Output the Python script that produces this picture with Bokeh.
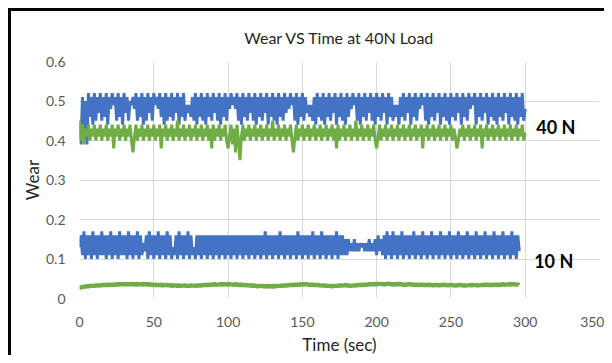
from bokeh.plotting import figure
from bokeh.layouts import column, row
from bokeh.models import Label, FixedTicker, Range1d, Spacer
from bokeh.embed import file_html
from bokeh.resources import INLINE

# time samples (sec)
t_40 = list(range(0, 301))
t_10 = list(range(0, 297))

blue_40 = [
    .45, .39, .51, .40, .50, .39, .52, .46, .51, .44, .52, .45, .51, .47, .52, .45, .51, .46, .52, .44,
    .51, .48, .52, .49, .51, .45, .52, .46, .51, .44, .52, .47, .51, .45, .50, .49, .51, .48, .52, .45,
    .51, .46, .52, .44, .51, .45, .52, .47, .51, .45, .52, .49, .51, .48, .52, .46, .51, .44, .52, .45,
    .51, .46, .52, .45, .51, .47, .52, .44, .51, .46, .52, .45, .49, .47, .49, .46, .51, .45, .52, .44,
    .51, .46, .52, .45, .51, .44, .52, .46, .51, .45, .52, .47, .51, .45, .52, .44, .51, .46, .52, .45,
    .51, .48, .52, .49, .51, .48, .52, .45, .51, .44, .52, .46, .51, .45, .52, .47, .51, .45, .52, .44,
    .51, .46, .52, .45, .51, .47, .52, .44, .51, .46, .52, .45, .51, .44, .52, .46, .51, .45, .52, .47,
    .51, .48, .52, .49, .51, .45, .52, .44, .51, .46, .52, .45, .51, .47, .49, .46, .49, .45, .51, .44,
    .52, .46, .51, .45, .52, .44, .51, .46, .52, .45, .51, .47, .52, .44, .51, .46, .52, .45, .51, .44,
    .52, .46, .51, .48, .52, .49, .51, .45, .52, .44, .51, .46, .52, .45, .51, .47, .52, .45, .51, .44,
    .52, .46, .51, .45, .52, .47, .51, .44, .52, .46, .51, .45, .49, .46, .49, .44, .51, .46, .52, .45,
    .51, .47, .52, .44, .51, .46, .52, .45, .51, .48, .52, .49, .51, .45, .52, .44, .51, .46, .52, .45,
    .51, .47, .52, .44, .51, .46, .52, .45, .51, .44, .52, .46, .51, .45, .52, .47, .51, .44, .52, .46,
    .51, .45, .52, .48, .51, .49, .52, .44, .51, .46, .52, .45, .51, .47, .52, .44, .51, .46, .52, .45,
    .51, .44, .52, .46, .51, .45, .52, .47, .51, .44, .52, .46, .51, .45, .52, .44, .51, .46, .52, .45,
    .48,
]

green_40 = [
    .45, .40, .44, .39, .43, .41, .44, .40, .43, .41, .44, .40, .43, .41, .44, .40, .43, .41, .44, .40,
    .43, .41, .44, .38, .43, .41, .44, .40, .43, .41, .44, .40, .43, .41, .44, .40, .37, .41, .44, .40,
    .43, .41, .44, .40, .43, .41, .44, .40, .43, .41, .44, .40, .43, .41, .44, .38, .43, .41, .44, .40,
    .43, .41, .44, .40, .43, .41, .45, .40, .43, .41, .44, .40, .43, .41, .44, .40, .43, .41, .44, .40,
    .43, .41, .44, .40, .43, .41, .44, .40, .43, .38, .44, .40, .43, .41, .44, .40, .43, .41, .44, .40,
    .38, .41, .44, .39, .43, .37, .44, .40, .35, .41, .44, .40, .43, .41, .44, .40, .43, .41, .44, .40,
    .43, .41, .44, .40, .43, .41, .44, .40, .43, .41, .45, .40, .43, .41, .44, .40, .43, .41, .44, .40,
    .43, .41, .44, .40, .37, .41, .44, .40, .43, .41, .44, .40, .43, .41, .44, .40, .43, .41, .44, .40,
    .43, .41, .44, .40, .43, .41, .44, .40, .43, .41, .44, .40, .43, .38, .44, .40, .43, .41, .44, .40,
    .43, .41, .44, .40, .43, .41, .45, .40, .43, .41, .44, .40, .43, .41, .44, .40, .43, .41, .44, .40,
    .38, .41, .44, .40, .43, .41, .44, .40, .43, .41, .44, .40, .43, .41, .44, .40, .43, .41, .44, .40,
    .43, .41, .44, .40, .43, .41, .44, .40, .43, .41, .44, .38, .43, .41, .44, .40, .43, .41, .44, .40,
    .43, .41, .44, .40, .43, .41, .44, .40, .43, .41, .44, .40, .43, .41, .38, .40, .43, .41, .44, .40,
    .43, .41, .44, .40, .43, .41, .44, .40, .43, .41, .44, .38, .43, .41, .44, .40, .43, .41, .44, .40,
    .43, .41, .44, .40, .43, .41, .44, .40, .43, .41, .44, .40, .43, .41, .44, .40, .43, .41, .44, .40,
    .42,
]

blue_10 = [
    .13, .16, .11, .17, .10, .16, .11, .16, .10, .17, .11, .16, .10, .16, .11, .17, .11, .16, .10, .16,
    .11, .17, .10, .16, .11, .16, .10, .17, .11, .16, .11, .16, .10, .17, .11, .16, .10, .16, .11, .17,
    .10, .16, .11, .14, .12, .16, .10, .17, .11, .16, .10, .16, .11, .17, .10, .16, .11, .16, .10, .17,
    .11, .16, .10, .13, .11, .16, .10, .17, .11, .16, .10, .16, .11, .17, .10, .16, .11, .13, .10, .16,
    .11, .16, .10, .16, .11, .16, .10, .16, .11, .16, .10, .16, .11, .16, .10, .16, .11, .16, .10, .16,
    .11, .16, .10, .16, .11, .16, .10, .16, .11, .16, .10, .16, .11, .16, .10, .16, .11, .16, .10, .16,
    .11, .16, .10, .16, .11, .17, .10, .16, .11, .16, .10, .16, .11, .16, .10, .17, .11, .16, .10, .16,
    .11, .16, .10, .16, .11, .16, .10, .17, .11, .16, .10, .16, .11, .16, .10, .16, .11, .17, .10, .16,
    .11, .16, .10, .17, .11, .16, .10, .16, .11, .16, .10, .16, .11, .17, .10, .16, .11, .16, .11, .15,
    .11, .15, .12, .14, .12, .15, .12, .14, .12, .14, .13, .14, .12, .14, .12, .15, .12, .14, .12, .15,
    .11, .16, .12, .15, .11, .16, .10, .17, .11, .16, .10, .17, .11, .16, .10, .16, .11, .17, .10, .16,
    .11, .16, .10, .16, .11, .17, .10, .16, .11, .16, .10, .17, .11, .16, .10, .16, .11, .17, .10, .16,
    .11, .16, .10, .17, .11, .16, .10, .16, .11, .17, .10, .16, .11, .16, .10, .17, .11, .16, .10, .16,
    .11, .17, .10, .16, .11, .16, .10, .17, .11, .16, .10, .16, .11, .17, .10, .16, .11, .16, .10, .17,
    .11, .16, .10, .16, .11, .17, .10, .16, .11, .16, .10, .17, .11, .16, .10, .16, .12,
]

green_10 = [
    .023, .032, .025, .034, .026, .035, .027, .036, .028, .036, .028, .037, .029, .037, .029, .038, .030, .038, .030, .039,
    .030, .039, .031, .039, .031, .040, .031, .040, .032, .040, .032, .041, .032, .040, .032, .041, .032, .040, .031, .041,
    .032, .040, .031, .041, .032, .040, .031, .040, .031, .039, .030, .039, .030, .038, .030, .039, .029, .038, .030, .038,
    .029, .038, .028, .037, .029, .037, .028, .037, .028, .036, .029, .037, .028, .036, .028, .037, .029, .036, .028, .037,
    .029, .037, .029, .038, .030, .038, .030, .039, .031, .039, .031, .040, .031, .039, .032, .040, .031, .040, .032, .040,
    .031, .040, .032, .039, .031, .040, .031, .039, .030, .039, .030, .038, .029, .038, .029, .037, .028, .037, .028, .036,
    .027, .036, .028, .036, .027, .035, .026, .036, .027, .035, .026, .036, .027, .036, .028, .036, .028, .037, .029, .037,
    .029, .038, .030, .038, .030, .039, .031, .039, .031, .040, .031, .040, .032, .040, .031, .039, .031, .039, .030, .038,
    .030, .038, .029, .037, .029, .037, .028, .036, .028, .036, .027, .036, .028, .036, .028, .037, .029, .037, .029, .038,
    .029, .037, .028, .036, .029, .037, .029, .038, .030, .038, .030, .039, .031, .039, .031, .040, .032, .040, .032, .041,
    .032, .041, .033, .041, .032, .040, .032, .041, .033, .041, .032, .040, .031, .040, .032, .041, .032, .040, .031, .039,
    .031, .040, .032, .040, .031, .039, .031, .039, .030, .039, .031, .039, .030, .038, .030, .039, .030, .038, .029, .038,
    .030, .038, .029, .038, .030, .039, .030, .038, .029, .038, .030, .038, .029, .037, .029, .038, .030, .038, .029, .037,
    .029, .037, .030, .038, .029, .038, .030, .038, .029, .037, .030, .038, .030, .039, .031, .039, .030, .038, .030, .039,
    .031, .039, .030, .039, .031, .040, .031, .039, .032, .040, .031, .040, .032, .040, .031, .039, .034,
]

x_ticks = [0, 50, 100, 150, 200, 250, 300, 350]
y_ticks = [0, 0.1, 0.2, 0.3, 0.4, 0.5, 0.6]

labels = [("40 N", 307.5, 0.433), ("10 N", 306, 0.096)]

BLUE = "#4472C4"
GREEN = "#70AD47"
FONT = "Lato"

p = figure(width=596, height=347, output_backend="svg", toolbar_location=None,
           x_range=Range1d(0, 350), y_range=Range1d(0, 0.6),
           min_border_left=68, min_border_right=8, min_border_top=50,
           min_border_bottom=60, title="Wear VS Time at 40N Load")
p.styles = {"border-left": "3px solid black", "border-top": "3px solid black"}

p.title.align = "center"
p.title.vertical_align = "top"
p.title.standoff = 26
p.title.text_font = FONT
p.title.text_font_size = "16px"
p.title.text_font_style = "normal"
p.title.text_color = "#262626"

p.line(t_40, blue_40, color=BLUE, line_width=3)
p.line(t_40, green_40, color=GREEN, line_width=3)
p.line(t_10, blue_10, color=BLUE, line_width=3)
p.line(t_10, green_10, color=GREEN, line_width=3)

for txt, lx, ly in labels:
    p.add_layout(Label(x=lx, y=ly, text=txt, text_font=FONT, text_font_size="18px",
                       text_font_style="bold", text_color="black",
                       text_baseline="middle", text_align="left"))

p.xaxis.ticker = FixedTicker(ticks=x_ticks)
p.yaxis.ticker = FixedTicker(ticks=y_ticks)
p.yaxis.formatter.use_scientific = False
for ax in (p.xaxis, p.yaxis):
    ax.axis_line_color = None
    ax.major_tick_line_color = None
    ax.minor_tick_line_color = None
    ax.major_tick_out = 0
    ax.major_tick_in = 0
    ax.minor_tick_out = 0
    ax.minor_tick_in = 0
    ax.major_label_text_font = FONT
    ax.major_label_text_font_size = "14px"
    ax.major_label_text_color = "#595959"
    ax.axis_label_text_font = FONT
    ax.axis_label_text_font_size = "17px"
    ax.axis_label_text_font_style = "normal"
    ax.axis_label_text_color = "#262626"
p.xaxis.major_label_standoff = 18
p.yaxis.major_label_standoff = 14
p.xaxis.axis_label = "Time (sec)"
p.yaxis.axis_label = "Wear"
p.xaxis.axis_label_standoff = 4
p.yaxis.axis_label_standoff = 0

p.xgrid.grid_line_color = "#d9d9d9"
p.ygrid.grid_line_color = "#d9d9d9"
p.outline_line_color = None
p.background_fill_color = "white"
p.border_fill_color = "white"

page = column(Spacer(height=8), row(Spacer(width=8), p))

open("out.html", "w").write(file_html(page, INLINE))
